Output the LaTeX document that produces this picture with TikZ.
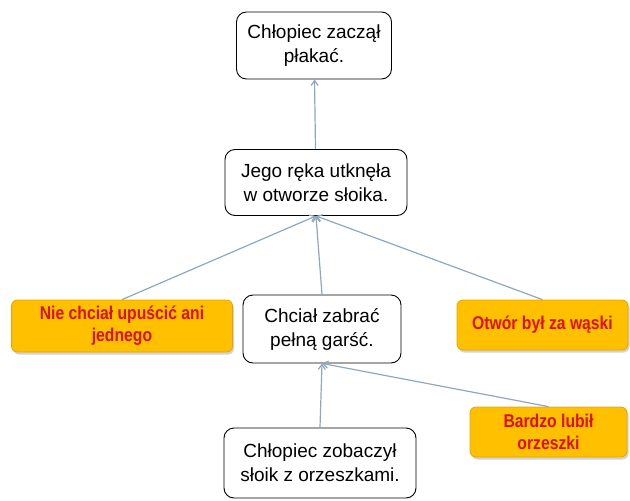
\documentclass[tikz,border=0pt]{standalone}
\usepackage{fontspec}
\setmainfont{Liberation Sans}
\newfontfamily\narrowbold[FakeStretch=0.85]{Liberation Sans Bold}
\usetikzlibrary{arrows.meta,shadows}
\definecolor{linkblue}{HTML}{8FA7BF}
\definecolor{causeyellow}{HTML}{FFC000}
\definecolor{causeedge}{HTML}{E8A300}
\definecolor{causered}{HTML}{DD1111}
\begin{document}
\begin{tikzpicture}[x=1pt,y=-1pt,
  event/.style={draw=black, line width=0.9pt, rounded corners=10pt, fill=white,
    align=center, inner sep=0pt,
    font=\fontsize{19}{24}\selectfont},
  cause/.style={draw=causeedge, line width=0.8pt, fill=causeyellow, rounded corners=6pt,
    align=center, inner sep=0pt, text=causered,
    drop shadow={shadow xshift=1.5pt, shadow yshift=-2.5pt, opacity=0.35},
    font=\narrowbold\fontsize{18.5}{22}\selectfont},
  link/.style={draw=linkblue, line width=1.2pt, -{Straight Barb[length=5pt,width=7pt]}}
]
\useasboundingbox (0,0) rectangle (630,501);

% story events
\node[event, minimum width=155pt, minimum height=67pt] (cry) at (314,45.5) {Chłopiec zaczął\\płakać.};
\node[event, minimum width=182pt, minimum height=66pt] (stuck) at (316,182.5) {Jego ręka utknęła\\w otworze słoika.};
\node[event, minimum width=158pt, minimum height=68pt] (grab) at (322,329) {Chciał zabrać\\pełną garść.};
\node[event, minimum width=192pt, minimum height=70pt] (saw) at (320,463) {Chłopiec zobaczył\\słoik z orzeszkami.};

% causes
\node[cause, minimum width=221pt, minimum height=52pt] (drop) at (122,326) {Nie chciał upuścić ani\\jednego};
\node[cause, minimum width=171pt, minimum height=50pt] (hole) at (542.5,325) {Otwór był za wąski};
\node[cause, minimum width=157pt, minimum height=50pt] (nuts) at (548.5,432) {Bardzo lubił\\orzeszki};

% causal links
\draw[link] (stuck) -- (cry);
\draw[link] (drop.north) -- (stuck.south);
\draw[link] (grab.north) -- (stuck.south);
\draw[link] (hole.north) -- (stuck.south);
\draw[link] (saw.north) -- (grab.south);
\draw[link] (nuts.north) -- (grab.south);
\end{tikzpicture}
\end{document}
